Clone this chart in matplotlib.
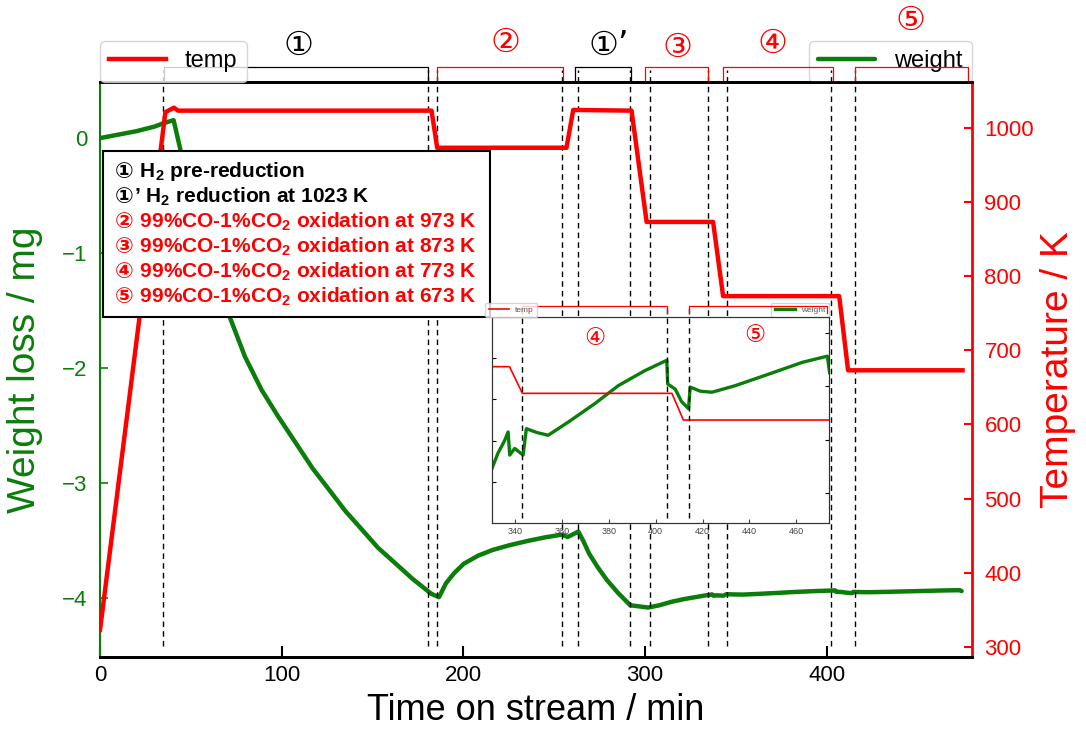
import matplotlib
matplotlib.use('Agg')
import matplotlib.pyplot as plt
import matplotlib.transforms as mtransforms
from matplotlib.patches import Rectangle

plt.rcParams['font.family'] = ['Liberation Sans', 'DejaVu Sans']
plt.rcParams['mathtext.fontset'] = 'custom'
plt.rcParams['mathtext.rm'] = 'Liberation Sans'
plt.rcParams['mathtext.bf'] = 'Liberation Sans:bold'

# temperature program (min, K)
time_temp = [0, 36, 40.7, 43, 182.5, 185.6, 256.8, 260.5, 292.6, 300.9,
             337.5, 343, 406.9, 411.8, 474.8]
temp = [323, 1021, 1027, 1023, 1023, 973, 973, 1024, 1023, 873,
        873, 773, 773, 673, 673]

# weight change (min, mg)
time_w = [0, 10, 20, 30, 35, 40.5, 46, 50, 55, 60, 65, 71.4, 79.8, 89, 98.1,
          108, 117, 126.3, 135, 144.6, 153, 162.9, 172, 182.3, 186.6, 190.4,
          195, 200.2, 208, 216, 225, 235.7, 245, 254.4, 257.4, 263.3, 266,
          269.2, 274, 279, 285, 291.9, 301.7, 308, 314.6, 322, 330, 332.6,
          335.4, 336.9, 337.6, 339.7, 343.3, 344.7, 349, 354, 362.6, 374,
          384, 395.4, 404.7, 405.1, 408.3, 411, 414, 414.7, 419, 424, 434,
          448.3, 462.6, 473.3, 474.3]
weight = [0.0, 0.03, 0.06, 0.10, 0.13, 0.156, -0.22, -0.44, -0.72, -0.99,
          -1.25, -1.554, -1.90, -2.19, -2.42, -2.655, -2.87, -3.06, -3.24,
          -3.41, -3.56, -3.70, -3.83, -3.96, -3.99, -3.87, -3.78, -3.70,
          -3.63, -3.58, -3.54, -3.50, -3.47, -3.446, -3.467, -3.42, -3.50,
          -3.61, -3.73, -3.84, -3.95, -4.06, -4.08, -4.06, -4.03, -4.005,
          -3.9835, -3.976, -3.970, -3.9658, -3.977, -3.9738, -3.977,
          -3.9642, -3.966, -3.9674, -3.961, -3.952, -3.9433, -3.936, -3.931,
          -3.9425, -3.945, -3.951, -3.9545, -3.944, -3.946, -3.9465,
          -3.9433, -3.9377, -3.932, -3.929, -3.937]

# stage boundaries
dash_times = [34.7, 180.5, 185.5, 254.3, 263.1, 291.7, 302.7, 334.6, 345.1,
              402.3, 415.5]
stage_labels = ['①', '②', '①’', '③', '④', '⑤']
stage_start = [35.2, 185.5, 261.4, 300.0, 342.9, 415.5]
stage_end = [180.5, 254.8, 292.2, 334.6, 403.4, 477.7]
stage_label_t = [109, 223, 280, 318, 370, 446]
stage_label_y = [1.064, 1.069, 1.064, 1.060, 1.067, 1.107]
stage_colors = ['black', 'red', 'black', 'red', 'red', 'red']

note_marks = ['①', '①', '②', '③', '④', '⑤']
note_texts = [' H$_\\mathbf{2}$ pre-reduction',
              '’ H$_\\mathbf{2}$ reduction at 1023 K',
              ' 99%CO-1%CO$_\\mathbf{2}$ oxidation at 973 K',
              ' 99%CO-1%CO$_\\mathbf{2}$ oxidation at 873 K',
              ' 99%CO-1%CO$_\\mathbf{2}$ oxidation at 773 K',
              ' 99%CO-1%CO$_\\mathbf{2}$ oxidation at 673 K']
note_colors = ['black', 'black', 'red', 'red', 'red', 'red']

# inset
inset_dash = [343.0, 404.7, 414.4]
inset_labels = ['④', '⑤']
inset_start = [343.0, 414.4]
inset_end = [404.7, 473.3]
inset_label_t = [373.9, 442.4]
inset_label_y = [0.898, 0.915]

green = '#0a7d0a'
red = '#ff0000'

fig = plt.figure(figsize=(10.86, 7.31), dpi=100)
ax = fig.add_axes([0.0921, 0.1012, 0.8029, 0.787])
ax2 = ax.twinx()

lw_line, = ax.plot(time_w, weight, color=green, lw=3.2, solid_capstyle='round')
lt_line, = ax2.plot(time_temp, temp, color=red, lw=3.2)

ax.set_xlim(0, 480)
ax.set_ylim(-4.51, 0.49)
ax2.set_ylim(286.5, 1062)
ax.set_xticks([0, 100, 200, 300, 400])
ax.set_yticks([0, -1, -2, -3, -4])
ax2.set_yticks(range(300, 1001, 100))

ax.tick_params(axis='x', direction='in', length=8, width=1.5, labelsize=16, pad=6, colors='black')
ax.tick_params(axis='y', direction='in', length=6, width=1.2, labelsize=16, pad=9, colors=green)
ax2.tick_params(axis='y', direction='in', length=6, width=1.5, labelsize=16, pad=9, colors=red)

for a in (ax, ax2):
    a.spines['top'].set_linewidth(2)
    a.spines['bottom'].set_linewidth(2)
ax.spines['left'].set_color(green)
ax.spines['left'].set_linewidth(1.5)
ax.spines['right'].set_visible(False)
ax2.spines['left'].set_visible(False)
ax2.spines['right'].set_color(red)
ax2.spines['right'].set_linewidth(2)

ax.set_xlabel('Time on stream / min', fontsize=26, labelpad=5)
ax.set_ylabel('Weight loss / mg', fontsize=28, color=green, labelpad=14)
ax2.set_ylabel('Temperature / K', fontsize=28, color=red, labelpad=4)

trans = mtransforms.blended_transform_factory(ax2.transData, ax2.transAxes)
for t in dash_times:
    ax2.axvline(t, ymin=0.02, ymax=1.02, color='black', lw=1, ls=(0, (4, 3)),
                clip_on=False, zorder=1)

for lab, s, e, lx, ly, c in zip(stage_labels, stage_start, stage_end,
                                stage_label_t, stage_label_y, stage_colors):
    ax2.plot([s, s, e, e], [1.0, 1.025, 1.025, 1.0], color=c, lw=0.9,
             transform=trans, clip_on=False)
    ax2.text(lx, ly, lab, transform=trans, color=c, fontsize=24,
             family='DejaVu Sans', ha='center', va='center')

# note box
ax2.add_patch(Rectangle((0.0034, 0.5915), 0.4435, 0.288, transform=ax2.transAxes,
                        facecolor='white', edgecolor='black', lw=1.5, zorder=5))
for i, (mark, line, c) in enumerate(zip(note_marks, note_texts, note_colors)):
    m = ax2.text(0.0172, 0.8436 - i * 0.04346, mark, transform=ax2.transAxes,
                 color=c, fontsize=16, fontweight='bold', family='DejaVu Sans',
                 va='center', zorder=6)
    ax2.annotate(line, xy=(1.0, 0.5), xycoords=m, va='center', ha='left',
                 color=c, fontsize=15, fontweight='bold', zorder=6)

ax2.legend([lt_line], ['temp'], loc='lower left', bbox_to_anchor=(0, 1),
           borderaxespad=0, fontsize=17, handlelength=2.4)
ax.legend([lw_line], ['weight'], loc='lower right', bbox_to_anchor=(1, 1),
          borderaxespad=0, fontsize=17, handlelength=2.4)

# inset
axi = fig.add_axes([0.453, 0.2845, 0.3103, 0.2818])
axi.set_facecolor('white')
axi2 = axi.twinx()
wi, = axi.plot(time_w, weight, color=green, lw=2.4)
ti, = axi2.plot(time_temp, temp, color=red, lw=1.2)
axi.set_xlim(330, 474)
axi.set_ylim(-4.01, -3.91)
axi2.set_ylim(287, 1059)
axi.set_xticks(range(340, 461, 20))
axi.set_yticks([-3.99, -3.97, -3.95, -3.93])
axi2.set_yticks([400, 600, 800, 1000])
axi.tick_params(axis='x', direction='in', length=3, labelsize=6.5, pad=3, colors='#444444')
axi.tick_params(axis='y', direction='in', length=3, labelleft=False)
axi2.tick_params(axis='y', direction='in', length=3, labelright=False)
for a in (axi, axi2):
    for sp in a.spines.values():
        sp.set_linewidth(0.8)
        sp.set_color('#333333')

itrans = mtransforms.blended_transform_factory(axi2.transData, axi2.transAxes)
for t in inset_dash:
    axi2.axvline(t, ymin=0.023, ymax=1.05, color='black', lw=1, ls=(0, (4, 3)),
                 clip_on=False)
for lab, s, e, lx, ly in zip(inset_labels, inset_start, inset_end,
                             inset_label_t, inset_label_y):
    axi2.plot([s, s, e, e], [1.02, 1.055, 1.055, 1.02], color=red, lw=0.9,
              transform=itrans, clip_on=False)
    axi2.text(lx, ly, lab, transform=itrans, color=red, fontsize=17,
              family='DejaVu Sans', ha='center', va='center')

axi2.legend([ti], ['temp'], loc='lower left', bbox_to_anchor=(-0.02, 1.0),
            borderaxespad=0, fontsize=6, handlelength=2.4,
            labelcolor='#555555')
axi.legend([wi], ['weight'], loc='lower right', bbox_to_anchor=(1.0, 1.0),
           borderaxespad=0, fontsize=6, handlelength=2.4,
           labelcolor='#555555')

fig.savefig('out.png', dpi=100)
